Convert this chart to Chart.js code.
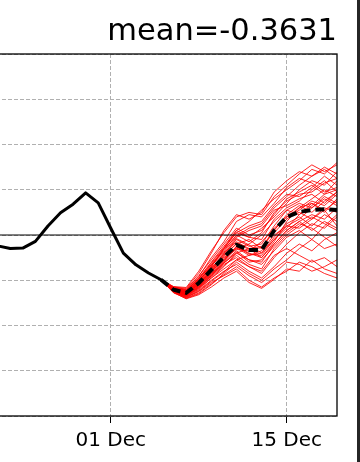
<!DOCTYPE html>
<html>
<head>
<meta charset="utf-8">
<script src="https://cdn.jsdelivr.net/npm/chart.js@4/dist/chart.umd.min.js"></script>
<style>
  html, body { margin: 0; padding: 0; background: #fff; width: 360px; height: 462px; overflow: hidden; position: relative; }
  #wrap { position: absolute; left: -40px; top: 0; width: 400px; height: 462px; }
  #edge { position: absolute; right: 0; top: 0; width: 3px; height: 462px; background: #262626; }
</style>
</head>
<body>
<div id="wrap"><canvas id="c"></canvas></div>
<div id="edge"></div>
<script>
// ---- data (x = days relative to 01 Dec) ----
const titleText = 'mean=-0.3631';
const tickDays = [0, 14];
const tickLabels = ['01 Dec', '15 Dec'];
const xMin = -12, xMax = 18;
const yMin = -4, yMax = 4;

const obsDays = [-9, -8, -7, -6, -5, -4, -3, -2, -1, 0, 1, 2, 3, 4];
const obsValues = [-0.24, -0.30, -0.29, -0.14, 0.20, 0.49, 0.68, 0.93, 0.71, 0.15, -0.40, -0.66, -0.84, -0.99];

const fcDays = [4, 5, 6, 7, 8, 9, 10, 11, 12, 13, 14, 15, 16, 17, 18];
const meanValues = [-0.99, -1.21, -1.28, -1.06, -0.77, -0.49, -0.22, -0.33, -0.33, 0.10, 0.40, 0.51, 0.55, 0.57, 0.55];

const m01 = [-0.99,-1.20,-1.30,-1.10,-0.80,-0.45,-0.10,-0.25,-0.20,0.20,0.55,0.70,0.60,0.85,0.70];
const m02 = [-0.99,-1.25,-1.35,-1.20,-0.95,-0.70,-0.40,-0.55,-0.60,-0.20,0.10,0.30,0.45,0.35,0.60];
const m03 = [-0.99,-1.15,-1.20,-0.90,-0.55,-0.20,0.15,0.00,0.10,0.45,0.80,0.95,1.10,0.90,1.20];
const m04 = [-0.99,-1.22,-1.32,-1.15,-0.90,-0.65,-0.50,-0.70,-0.85,-0.50,-0.20,0.05,0.25,0.15,0.40];
const m05 = [-0.99,-1.18,-1.25,-1.00,-0.70,-0.30,0.05,0.20,0.30,0.65,0.90,0.85,1.05,1.30,1.10];
const m06 = [-0.99,-1.28,-1.40,-1.30,-1.10,-0.85,-0.60,-0.80,-0.95,-0.70,-0.40,-0.20,-0.35,-0.10,0.05];
const m07 = [-0.99,-1.20,-1.28,-1.05,-0.75,-0.40,-0.15,-0.30,-0.25,0.05,0.35,0.55,0.75,0.65,0.90];
const m08 = [-0.99,-1.15,-1.18,-0.85,-0.40,0.10,0.45,0.35,0.50,0.95,1.20,1.40,1.30,1.50,1.35];
const m09 = [-0.99,-1.24,-1.34,-1.18,-0.95,-0.75,-0.55,-0.45,-0.40,-0.05,0.25,0.40,0.20,0.45,0.30];
const m10 = [-0.99,-1.21,-1.30,-1.08,-0.80,-0.55,-0.25,-0.40,-0.50,-0.15,0.30,0.60,0.80,1.00,0.85];
const m11 = [-0.99,-1.17,-1.22,-0.95,-0.60,-0.25,0.10,0.30,0.55,0.80,1.00,1.20,1.45,1.35,1.60];
const m12 = [-0.99,-1.26,-1.38,-1.25,-1.05,-0.90,-0.75,-1.00,-1.15,-0.95,-0.80,-0.60,-0.70,-0.85,-0.95];
const m13 = [-0.99,-1.19,-1.27,-1.02,-0.72,-0.50,-0.30,-0.20,0.00,0.30,0.55,0.45,0.70,0.55,0.75];
const m14 = [-0.99,-1.23,-1.31,-1.12,-0.85,-0.60,-0.35,-0.55,-0.65,-0.35,-0.05,0.10,-0.10,0.20,0.45];
const m15 = [-0.99,-1.16,-1.21,-0.92,-0.50,-0.15,0.30,0.45,0.40,0.70,1.05,1.25,1.15,0.95,1.05];
const m16 = [-0.99,-1.27,-1.36,-1.22,-1.00,-0.80,-0.65,-0.85,-1.00,-0.75,-0.55,-0.30,-0.10,-0.30,-0.20];
const m17 = [-0.99,-1.20,-1.29,-1.07,-0.78,-0.45,-0.20,-0.10,-0.30,0.10,0.45,0.65,0.50,0.75,0.95];
const m18 = [-0.99,-1.22,-1.33,-1.14,-0.88,-0.58,-0.28,-0.45,-0.35,0.00,0.20,0.35,0.60,0.80,0.65];
const m19 = [-0.99,-1.18,-1.24,-0.98,-0.65,-0.35,0.00,-0.15,0.05,0.50,0.75,0.90,0.95,1.15,1.25];
const m20 = [-0.99,-1.25,-1.37,-1.24,-1.02,-0.82,-0.55,-0.70,-0.80,-0.45,-0.30,-0.45,-0.60,-0.50,-0.70];
const m21 = [-0.99,-1.21,-1.29,-1.06,-0.82,-0.52,-0.32,-0.35,-0.15,0.15,0.40,0.50,0.35,0.60,0.50];
const m22 = [-0.99,-1.19,-1.26,-1.03,-0.68,-0.38,-0.05,0.10,0.20,0.55,0.65,0.80,0.90,0.70,0.95];
const m23 = [-0.99,-1.24,-1.35,-1.17,-0.92,-0.68,-0.45,-0.65,-0.75,-0.30,0.00,0.20,0.40,0.25,0.10];
const m24 = [-0.99,-1.20,-1.27,-1.04,-0.74,-0.42,-0.08,-0.22,-0.40,-0.10,0.15,0.45,0.65,0.90,1.00];
const m25 = [-0.99,-1.23,-1.31,-1.13,-0.86,-0.62,-0.38,-0.60,-0.55,-0.25,0.05,0.25,0.15,-0.05,-0.25];
const m26 = [-0.99,-1.17,-1.23,-0.96,-0.62,-0.28,0.05,-0.05,0.15,0.40,0.70,1.00,1.20,1.10,1.40];
const m27 = [-0.99,-1.22,-1.30,-1.10,-0.84,-0.56,-0.26,-0.42,-0.45,-0.10,0.20,0.15,0.35,0.55,0.20];
const m28 = [-0.99,-1.26,-1.39,-1.28,-1.08,-0.88,-0.70,-0.90,-1.05,-0.85,-0.60,-0.65,-0.80,-0.70,-0.55];
const m29 = [-0.99,-1.19,-1.26,-1.01,-0.70,-0.32,-0.02,0.15,0.25,0.60,0.85,1.10,1.30,1.45,1.25];
const m30 = [-0.99,-1.21,-1.30,-1.09,-0.79,-0.48,-0.18,-0.32,-0.28,0.12,0.40,0.60,0.70,0.50,0.80];
const m31 = [-0.99,-1.14,-1.16,-0.80,-0.35,0.05,0.40,0.50,0.45,0.85,1.10,1.35,1.55,1.40,1.55];
const m32 = [-0.99,-1.27,-1.41,-1.32,-1.15,-0.95,-0.80,-1.05,-1.18,-0.98,-0.75,-0.80,-0.55,-0.75,-0.85];
const m33 = [-0.99,-1.18,-1.23,-0.97,-0.66,-0.30,0.10,-0.05,-0.10,0.35,0.60,0.75,1.00,1.20,0.95];
const m34 = [-0.99,-1.23,-1.33,-1.16,-0.90,-0.62,-0.40,-0.30,-0.50,-0.20,0.10,0.30,0.10,0.30,0.15];
const members = [m01,m02,m03,m04,m05,m06,m07,m08,m09,m10,m11,m12,m13,m14,m15,m16,m17,m18,m19,m20,m21,m22,m23,m24,m25,m26,m27,m28,m29,m30,m31,m32,m33,m34];

// ---- build datasets ----
const pts = (xs, ys) => xs.map((x, i) => ({ x: x, y: ys[i] }));
const datasets = [];
datasets.push({
  label: 'observed', data: pts(obsDays, obsValues), order: 0,
  borderColor: '#000', borderWidth: 3, pointRadius: 0, tension: 0, borderJoinStyle: 'round', borderCapStyle: 'round'
});
datasets.push({
  label: 'ensemble mean', data: pts(fcDays, meanValues), order: 1,
  borderColor: '#000', borderWidth: 4, borderDash: [9, 5], pointRadius: 0, tension: 0, borderCapStyle: 'butt'
});
datasets.push({
  label: 'zero', data: pts([xMin, xMax], [0, 0]), order: 2,
  borderColor: '#000', borderWidth: 1, pointRadius: 0, tension: 0
});
members.forEach((m, i) => datasets.push({
  label: 'member ' + (i + 1), data: pts(fcDays, m), order: 3,
  borderColor: 'rgba(255,0,0,0.85)', borderWidth: 1, pointRadius: 0, tension: 0
}));

const framePlugin = {
  id: 'frame',
  afterDraw(chart) {
    const a = chart.chartArea, ctx = chart.ctx;
    ctx.save();
    ctx.strokeStyle = '#000';
    ctx.lineWidth = 1.3;
    ctx.setLineDash([]);
    ctx.strokeRect(a.left, a.top, a.right - a.left, a.bottom - a.top);
    ctx.restore();
  }
};

new Chart(document.getElementById('c'), {
  type: 'line',
  data: { datasets: datasets },
  plugins: [framePlugin],
  options: {
    responsive: true,
    maintainAspectRatio: false,
    animation: false,
    events: [],
    layout: { padding: { left: 0, right: 23, top: 0, bottom: 3 } },
    plugins: {
      legend: { display: false },
      tooltip: { enabled: false },
      title: {
        display: true, text: titleText, align: 'end', color: '#000',
        font: { family: 'DejaVu Sans', size: 30.5, weight: 'normal', lineHeight: 1.2 },
        padding: { top: 14, bottom: 3.4 }
      }
    },
    scales: {
      x: {
        type: 'linear', min: xMin, max: xMax,
        afterBuildTicks: (s) => { s.ticks = tickDays.map(v => ({ value: v })); },
        ticks: {
          autoSkip: false, maxRotation: 0, padding: 6, color: '#000',
          font: { family: 'DejaVu Sans', size: 20 },
          callback: (v) => { const i = tickDays.indexOf(v); return i >= 0 ? tickLabels[i] : ''; }
        },
        grid: { color: '#b0b0b0', lineWidth: 1, tickLength: 7, tickColor: '#000', tickWidth: 1, tickBorderDash: [] },
        border: { display: false, dash: [4, 2] }
      },
      y: {
        type: 'linear', min: yMin, max: yMax,
        ticks: { display: false, stepSize: 1 },
        grid: { color: '#b0b0b0', lineWidth: 1, drawTicks: false },
        border: { display: false, dash: [4, 2] }
      }
    }
  }
});
</script>
</body>
</html>
